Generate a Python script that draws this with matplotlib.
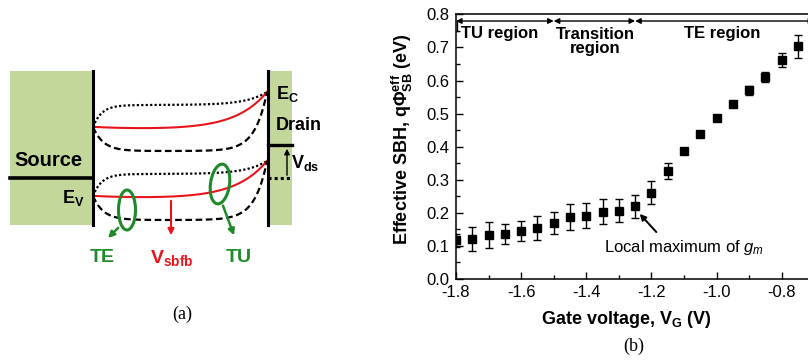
import numpy as np
import matplotlib
matplotlib.use("Agg")
import matplotlib.pyplot as plt
from matplotlib.patches import Rectangle, Ellipse
from matplotlib.ticker import MultipleLocator

plt.rcParams['font.family'] = ['Liberation Sans', 'DejaVu Sans']
plt.rcParams['axes.unicode_minus'] = False
plt.rcParams['mathtext.fontset'] = 'custom'
plt.rcParams['mathtext.rm'] = 'Liberation Sans'
plt.rcParams['mathtext.bf'] = 'Liberation Sans:bold'
plt.rcParams['mathtext.it'] = 'Liberation Sans:italic'

# ---------------- data for panel (b) ----------------
gate_voltage = [-1.80, -1.75, -1.70, -1.65, -1.60, -1.55, -1.50, -1.45, -1.40, -1.35, -1.30,
                -1.25, -1.20, -1.15, -1.10, -1.05, -1.00, -0.95, -0.90, -0.85, -0.80, -0.75]
sbh = [0.117, 0.122, 0.132, 0.135, 0.145, 0.155, 0.169, 0.187, 0.191, 0.203, 0.206,
       0.220, 0.261, 0.326, 0.387, 0.438, 0.487, 0.530, 0.570, 0.612, 0.661, 0.703]
sbh_err = [0.02, 0.036, 0.039, 0.030, 0.030, 0.036, 0.033, 0.040, 0.038, 0.038, 0.035,
           0.035, 0.034, 0.025, 0.005, 0.005, 0.006, 0.008, 0.013, 0.015, 0.021, 0.035]
region_bounds = [-1.8, -1.5, -1.25, -0.70]
region_labels = ["TU region", "Transition\nregion", "TE region"]
x_ticks = [-1.8, -1.6, -1.4, -1.2, -1.0, -0.8]
y_ticks = [0.0, 0.1, 0.2, 0.3, 0.4, 0.5, 0.6, 0.7, 0.8]

W, H = 808, 360
fig = plt.figure(figsize=(W / 100, H / 100), dpi=100)

# ---------------- panel (a): schematic in pixel coordinates ----------------
axa = fig.add_axes([0, 0, 1, 1])
axa.set_xlim(0, W)
axa.set_ylim(H, 0)
axa.axis('off')

block_green = '#c4d79b'
green = '#1e8a2a'
red = '#e8141b'

axa.add_patch(Rectangle((10, 71), 83, 154, facecolor=block_green, edgecolor='none', zorder=1))
axa.add_patch(Rectangle((268, 71), 24, 154, facecolor=block_green, edgecolor='none', zorder=1))
axa.plot([93, 93], [71, 225], color='black', lw=2.2, zorder=3)
axa.plot([268, 268], [71, 225], color='black', lw=2.2, zorder=3)
axa.plot([10, 93], [178, 178], color='black', lw=2.6, zorder=3)
axa.plot([268, 292], [145, 145], color='black', lw=2.4, zorder=3)
axa.plot([268, 292], [178, 178], color='black', lw=2.2, ls=(0, (1, 1)), zorder=3)
axa.annotate('', xy=(287, 146), xytext=(287, 178),
             arrowprops=dict(arrowstyle='-|>', color='black', lw=1.0, mutation_scale=8), zorder=4)

# band curves (schematic shapes)
t = np.linspace(0, 1, 200)
xs = 93 + t * (267 - 93)


def curve(y_left, y_right, y_mid, k_left, k_right):
    wl = np.exp(-t / k_left)
    wr = np.exp((t - 1) / k_right)
    return y_mid + (y_left - y_mid) * wl + (y_right - y_mid) * wr


for off in (0, 69):
    yl, yr = 127 + off, 92 + off
    dotted = curve(yl, yr, 105 + off, 0.05, 0.12)
    redc = curve(yl, yr, 130 + off, 0.3, 0.18)
    dashed = curve(yl, yr, 151 + off, 0.06, 0.07)
    axa.plot(xs, dotted, color='black', lw=1.6, ls=(0, (1, 1)), zorder=2)
    axa.plot(xs, redc, color=red, lw=1.5, zorder=2)
    axa.plot(xs, dashed, color='black', lw=1.6, ls=(0, (3, 1.6)), zorder=2)

axa.add_patch(Ellipse((127, 210), 17, 40, fill=False, edgecolor=green, lw=2.2, zorder=5))
axa.add_patch(Ellipse((220, 184), 19, 40, angle=8, fill=False, edgecolor=green, lw=2.2, zorder=5))
axa.annotate('', xy=(106, 240), xytext=(120, 226),
             arrowprops=dict(arrowstyle='-|>', color=green, lw=1.8, mutation_scale=9), zorder=5)
axa.annotate('', xy=(235, 238), xytext=(222, 203),
             arrowprops=dict(arrowstyle='-|>', color=green, lw=1.8, mutation_scale=9), zorder=5)
axa.annotate('', xy=(171, 238), xytext=(171, 198),
             arrowprops=dict(arrowstyle='-|>', color=red, lw=1.5, mutation_scale=9), zorder=5)

axa.text(48, 160, 'Source', fontsize=14.5, fontweight='bold', ha='center', va='center')
axa.text(73, 198, r'E$_\mathbf{V}$', fontsize=13, fontweight='bold', ha='center', va='center')
axa.text(276, 94, r'E$_\mathbf{C}$', fontsize=13, fontweight='bold', ha='left', va='center')
axa.text(276, 126, 'Drain', fontsize=13, fontweight='bold', ha='left', va='center')
axa.text(291, 163, r'V$_\mathbf{ds}$', fontsize=13, fontweight='bold', ha='left', va='center')
axa.text(102, 258, 'TE', fontsize=14, fontweight='bold', color=green, ha='center', va='center')
axa.text(172, 258, r'V$_\mathbf{sbfb}$', fontsize=14, fontweight='bold', color=red, ha='center', va='center')
axa.text(239, 258, 'TU', fontsize=14, fontweight='bold', color=green, ha='center', va='center')
axa.text(182, 314, '(a)', fontsize=13, family='Liberation Serif', ha='center', va='center')
axa.text(634, 346, '(b)', fontsize=13, family='Liberation Serif', ha='center', va='center')

# ---------------- panel (b) ----------------
x0, x1 = 456, 456 + 1.1 * 325.7
y_top, y_bot = 14.4, 279
axb = fig.add_axes([x0 / W, (H - y_bot) / H, (x1 - x0) / W, (y_bot - y_top) / H])
axb.set_xlim(-1.8, -0.7)
axb.set_ylim(0, 0.8)
axb.errorbar(gate_voltage, sbh, yerr=sbh_err, fmt='s', color='black', ms=5.5,
             ecolor='black', elinewidth=1.0, capsize=3, capthick=1.0, zorder=3)
axb.set_xticks(x_ticks)
axb.set_yticks(y_ticks)
axb.set_xticklabels([f'{v:.1f}' for v in x_ticks])
axb.set_yticklabels([f'{v:.1f}' for v in y_ticks])
axb.xaxis.set_minor_locator(MultipleLocator(0.1))
axb.yaxis.set_minor_locator(MultipleLocator(0.05))
axb.tick_params(which='major', direction='in', length=5, width=1, labelsize=12)
axb.tick_params(axis='x', which='major', pad=4)
axb.tick_params(axis='y', which='major', pad=5)
axb.tick_params(which='minor', direction='in', length=3, width=1)
axb.tick_params(top=False, right=False, which='both')
for s in axb.spines.values():
    s.set_linewidth(1.1)

for a, b in zip(region_bounds[:-1], region_bounds[1:]):
    axb.annotate('', xy=(a, 0.78), xytext=(b, 0.78),
                 arrowprops=dict(arrowstyle='<|-|>', color='black', lw=1.0,
                                 mutation_scale=8, shrinkA=0, shrinkB=0))
axb.plot([-1.797, -1.797], [0.78, 0.75], color='black', lw=1.0)
axb.text(-1.665, 0.742, region_labels[0], fontsize=12, fontweight='bold', ha='center', va='center')
axb.text(-1.372, 0.718, region_labels[1], fontsize=12, fontweight='bold', ha='center', va='center',
         linespacing=0.85)
axb.text(-0.984, 0.742, region_labels[2], fontsize=12, fontweight='bold', ha='center', va='center')

axb.text(-1.346, 0.094, r'Local maximum of $\mathit{g}_{\mathit{m}}$', fontsize=12,
         ha='left', va='center')
axb.annotate('', xy=(-1.236, 0.197), xytext=(-1.185, 0.142),
             arrowprops=dict(arrowstyle='-|>', color='black', lw=1.4, mutation_scale=9,
                             shrinkA=0, shrinkB=0))

fig.text(626 / W, 1 - 320 / H, r'Gate voltage, V$_\mathbf{G}$ (V)', fontsize=13, fontweight='bold',
         ha='center', va='center')
fig.text(402 / W, 1 - 139 / H, r'Effective SBH, q$\mathbf{\Phi}_\mathbf{SB}^\mathbf{eff}$ (eV)',
         fontsize=13, fontweight='bold', rotation=90, ha='center', va='center')

fig.savefig('out.png', dpi=100)
